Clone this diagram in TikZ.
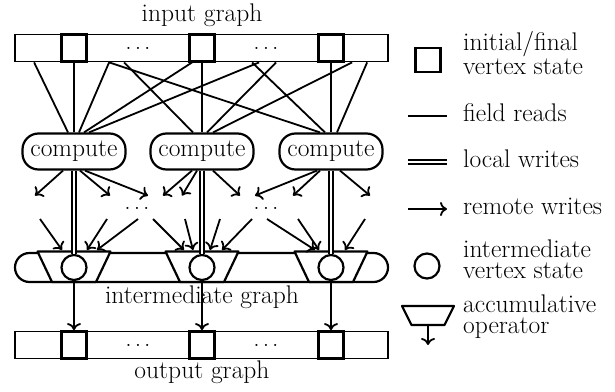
\documentclass[tikz,border=0pt]{standalone}
\usepackage{fontspec}
\usetikzlibrary{arrows.meta,calc}
\newcommand{\mydots}{.\hspace{3pt}.\hspace{3pt}.}
\begin{document}
\begin{tikzpicture}[x=1pt,y=-1pt,
  every node/.style={font=\fontsize{25.5}{21}\selectfont, inner sep=0pt},
  bar/.style={draw, line width=1.8pt, minimum width=373pt, minimum height=27pt},
  sq/.style={draw, line width=2.8pt, minimum width=25pt, minimum height=27pt, fill=white},
  comp/.style={draw, line width=2.2pt, rounded corners=16pt, minimum width=103pt, minimum height=36pt},
  stad/.style={draw, line width=2.2pt, rounded corners=14.5pt, minimum width=373pt, minimum height=29pt},
  vst/.style={draw, circle, line width=2.2pt, minimum size=25pt, fill=white},
  acc/.style={draw, line width=2.2pt, fill=white, line join=round},
  rd/.style={line width=1.8pt},
  lwr/.style={double, line width=1.6pt, double distance=2.6pt},
  rw/.style={line width=1.8pt, -{Computer Modern Rightarrow[length=7pt,width=14pt]}},
  lab/.style={anchor=base},
  leg/.style={anchor=base west, align=left},
]
\useasboundingbox (0,0) rectangle (615,391);

% input graph
\node[lab] (tin) at (202,21) {input graph};
\node[bar] (ib) at (201.5,48) {};
\node[sq] (is1) at (74,48) {};
\node[sq] (is2) at (202,48) {};
\node[sq] (is3) at (331,48) {};
\node (id1) at (138,48) {\mydots};
\node (id2) at (266,48) {\mydots};

% compute nodes
\node[comp] (c1) at (74,151.5) {compute};
\node[comp] (c2) at (202,151.5) {compute};
\node[comp] (c3) at (331,151.5) {compute};

% field reads
\draw[rd] ([xshift=20pt]ib.south west) -- ([xshift=-6pt]c1.north);
\draw[rd] (is1.south) -- (c1.north);
\draw[rd] ([xshift=95pt]ib.south west) -- ([xshift=5pt]c1.north);
\draw[rd] ([xshift=178pt]ib.south west) -- ([xshift=10pt]c1.north);
\draw[rd] ([xshift=245pt]ib.south west) -- ([xshift=15pt]c1.north);
\draw[rd] ([xshift=110pt]ib.south west) -- ([xshift=-9pt]c2.north);
\draw[rd] (is2.south) -- (c2.north);
\draw[rd] ([xshift=262pt]ib.south west) -- ([xshift=5pt]c2.north);
\draw[rd] ([xshift=338pt]ib.south west) -- ([xshift=11pt]c2.north);
\draw[rd] ([xshift=95pt]ib.south west) -- ([xshift=-11pt]c3.north);
\draw[rd] ([xshift=238pt]ib.south west) -- ([xshift=-6pt]c3.north);
\draw[rd] (is3.south) -- (c3.north);
\draw[rd] ([xshift=353pt]ib.south west) -- ([xshift=6pt]c3.north);

% remote writes (upper)
\draw[rw] ([xshift=-11pt]c1.south) -- ($(c1.south)+(-39,25)$);
\draw[rw] ([xshift=6pt]c1.south) -- ($(c1.south)+(36,25)$);
\draw[rw] ([xshift=11pt]c1.south) -- ($(c1.south)+(74,25)$);
\draw[rw] ([xshift=-10pt]c2.south) -- ($(c2.south)+(-39,25)$);
\draw[rw] ([xshift=-5pt]c2.south) -- ($(c2.south)+(-20,25)$);
\draw[rw] ([xshift=11pt]c2.south) -- ($(c2.south)+(38,25)$);
\draw[rw] ([xshift=-14pt]c3.south) -- ($(c3.south)+(-76,25)$);
\draw[rw] ([xshift=-11pt]c3.south) -- ($(c3.south)+(-38,25)$);
\draw[rw] ([xshift=9pt]c3.south) -- ($(c3.south)+(39,25)$);

\node (md1) at (137,208) {\mydots};
\node (md2) at (266,208) {\mydots};

% intermediate graph
\node[stad] (ig) at (201.5,267.5) {};
\coordinate (a1) at (74,251.5);
\coordinate (a2) at (202,251.5);
\coordinate (a3) at (331,251.5);
\draw[acc] ($(a1)+(-36.5,0)$) -- ($(a1)+(36.5,0)$) -- ($(a1)+(22,30.5)$) -- ($(a1)+(-22,30.5)$) -- cycle;
\draw[acc] ($(a2)+(-36.5,0)$) -- ($(a2)+(36.5,0)$) -- ($(a2)+(22,30.5)$) -- ($(a2)+(-22,30.5)$) -- cycle;
\draw[acc] ($(a3)+(-36.5,0)$) -- ($(a3)+(36.5,0)$) -- ($(a3)+(22,30.5)$) -- ($(a3)+(-22,30.5)$) -- cycle;
\node[vst] (k1) at (74,267.5) {};
\node[vst] (k2) at (202,267.5) {};
\node[vst] (k3) at (331,267.5) {};

% remote writes (lower)
\draw[rw] ($(a1)+(-34,-32.5)$) -- ($(a1)+(-12,-1.5)$);
\draw[rw] ($(a1)+(33,-32.5)$) -- ($(a1)+(13,-1.5)$);
\draw[rw] ($(a1)+(64,-32.5)$) -- ($(a1)+(23,-1.5)$);
\draw[rw] ($(a2)+(-49,-32.5)$) -- ($(a2)+(-18,-1.5)$);
\draw[rw] ($(a2)+(-17,-32.5)$) -- ($(a2)+(-9,-1.5)$);
\draw[rw] ($(a2)+(18,-32.5)$) -- ($(a2)+(8,-1.5)$);
\draw[rw] ($(a2)+(50,-32.5)$) -- ($(a2)+(20,-1.5)$);
\draw[rw] ($(a3)+(-64,-32.5)$) -- ($(a3)+(-16,-1.5)$);
\draw[rw] ($(a3)+(-33,-32.5)$) -- ($(a3)+(-12,-1.5)$);
\draw[rw] ($(a3)+(34,-32.5)$) -- ($(a3)+(14,-1.5)$);

% local writes
\draw[lwr] (c1.south) -- (k1.north);
\draw[lwr] (c2.south) -- (k2.north);
\draw[lwr] (c3.south) -- (k3.north);

\node[lab] (tig) at (202,303) {intermediate graph};

% output graph
\node[bar] (ob) at (201.5,345) {};
\node[sq] (os1) at (74,345) {};
\node[sq] (os2) at (202,345) {};
\node[sq] (os3) at (331,345) {};
\node (od1) at (138,345) {\mydots};
\node (od2) at (266,345) {\mydots};
\node[lab] (tout) at (202,378) {output graph};

\draw[rw] (k1.south) -- (os1.north);
\draw[rw] (k2.south) -- (os2.north);
\draw[rw] (k3.south) -- (os3.north);

% legend
\node[sq, minimum height=24pt] (ls) at (428,60) {};
\node[leg] (lt1) at (463,74) {initial/final\\vertex state};
\draw[rd] (408,116) -- (447,116);
\node[leg] (lt2) at (463,121) {field reads};
\draw[lwr] (408,162) -- (447,162);
\node[leg] (lt3) at (463,167) {local writes};
\draw[rw] (408,209) -- (447,209);
\node[leg] (lt4) at (463,214) {remote writes};
\node[vst] (lk) at (427,266) {};
\node[leg] (lt5) at (463,278) {intermediate\\vertex state};
\draw[acc] (402,306) -- (454,306) -- (444.5,325) -- (411.5,325) -- cycle;
\draw[rw] (428,325) -- (428,345);
\node[leg] (lt6) at (463,333) {accumulative\\operator};
\end{tikzpicture}
\end{document}
